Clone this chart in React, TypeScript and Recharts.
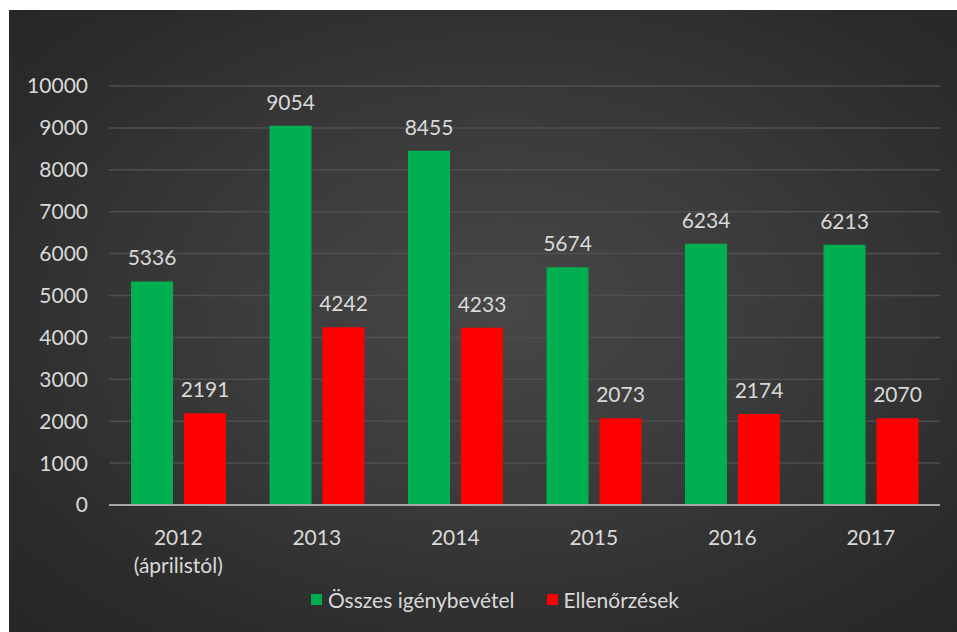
import { Bar, BarChart, CartesianGrid, LabelList, Legend, XAxis, YAxis } from "recharts";

const categories = ["2012\n(áprilistól)", "2013", "2014", "2015", "2016", "2017"];
const osszes = [5336, 9054, 8455, 5674, 6234, 6213];
const ellenorzesek = [2191, 4242, 4233, 2073, 2174, 2070];
const yTicks = [0, 1000, 2000, 3000, 4000, 5000, 6000, 7000, 8000, 9000, 10000];

const seriesNames = ["Összes igénybevétel", "Ellenőrzések"];

const data = categories.map((c, i) => ({
    year: c,
    osszes: osszes[i],
    ellenorzesek: ellenorzesek[i],
}));

const TEXT = "#d9d9d9";
const FONT = "Lato, 'Open Sans', sans-serif";

function YearTick(props: any) {
    const { x, y, payload } = props;
    const lines = String(payload.value).split("\n");
    return (
        <g>
            {lines.map((line, i) => (
                <text
                    key={i}
                    x={x}
                    y={y + 40 + i * 28}
                    textAnchor="middle"
                    fill={TEXT}
                    fontSize={21}
                    fontFamily={FONT}
                >
                    {line}
                </text>
            ))}
        </g>
    );
}

function LegendBox(props: any) {
    // keep the series order, recharts sorts legend items by name
    const items = [...(props.payload || [])].sort(
        (a: any, b: any) => seriesNames.indexOf(a.value) - seriesNames.indexOf(b.value)
    );
    return (
        <div
            style={{
                display: "flex",
                justifyContent: "center",
                gap: 32,
                paddingLeft: 24,
                fontFamily: FONT,
                fontSize: 21,
                color: TEXT,
            }}
        >
            {items.map((it: any) => (
                <div key={it.value} style={{ display: "flex", alignItems: "center" }}>
                    <span
                        style={{
                            display: "inline-block",
                            width: 11,
                            height: 11,
                            background: it.color,
                            marginRight: 6,
                        }}
                    />
                    <span>{it.value}</span>
                </div>
            ))}
        </div>
    );
}

export default function App() {
    return (
        <div
            style={{
                position: "absolute",
                left: 9,
                top: 10,
                width: 948,
                height: 622,
                background:
                    "radial-gradient(ellipse at 52% 48%, #474747 0%, #3b3b3b 40%, #2b2b2b 80%, #262626 100%)",
            }}
        >
            <BarChart
                width={948}
                height={622}
                data={data}
                margin={{ top: 76, right: 17, left: 0, bottom: 10 }}
                barGap={11}
                barSize={42}
            >
                <CartesianGrid vertical={false} stroke="#4f4f4f" strokeWidth={1.5} />
                <XAxis
                    dataKey="year"
                    height={117}
                    tickLine={false}
                    tickSize={0}
                    tickMargin={0}
                    axisLine={{ stroke: "#a6a6a6", strokeWidth: 2 }}
                    tick={<YearTick />}
                    interval={0}
                />
                <YAxis
                    width={100}
                    domain={[0, 10000]}
                    ticks={yTicks}
                    axisLine={false}
                    tickLine={false}
                    tickSize={0}
                    tickMargin={21}
                    tick={{ fill: TEXT, fontSize: 21, fontFamily: FONT }}
                />
                <Legend
                    verticalAlign="middle"
                    align="center"
                    layout="horizontal"
                    wrapperStyle={{ top: 577, left: 0, width: 948 }}
                    content={<LegendBox />}
                />
                <Bar dataKey="osszes" name={seriesNames[0]} fill="#00b050" isAnimationActive={false}>
                    <LabelList
                        dataKey="osszes"
                        position="top"
                        offset={16}
                        fill={TEXT}
                        fontSize={21}
                        fontFamily={FONT}
                    />
                </Bar>
                <Bar
                    dataKey="ellenorzesek"
                    name={seriesNames[1]}
                    fill="#ff0000"
                    isAnimationActive={false}
                >
                    <LabelList
                        dataKey="ellenorzesek"
                        position="top"
                        offset={16}
                        fill={TEXT}
                        fontSize={21}
                        fontFamily={FONT}
                    />
                </Bar>
            </BarChart>
        </div>
    );
}
